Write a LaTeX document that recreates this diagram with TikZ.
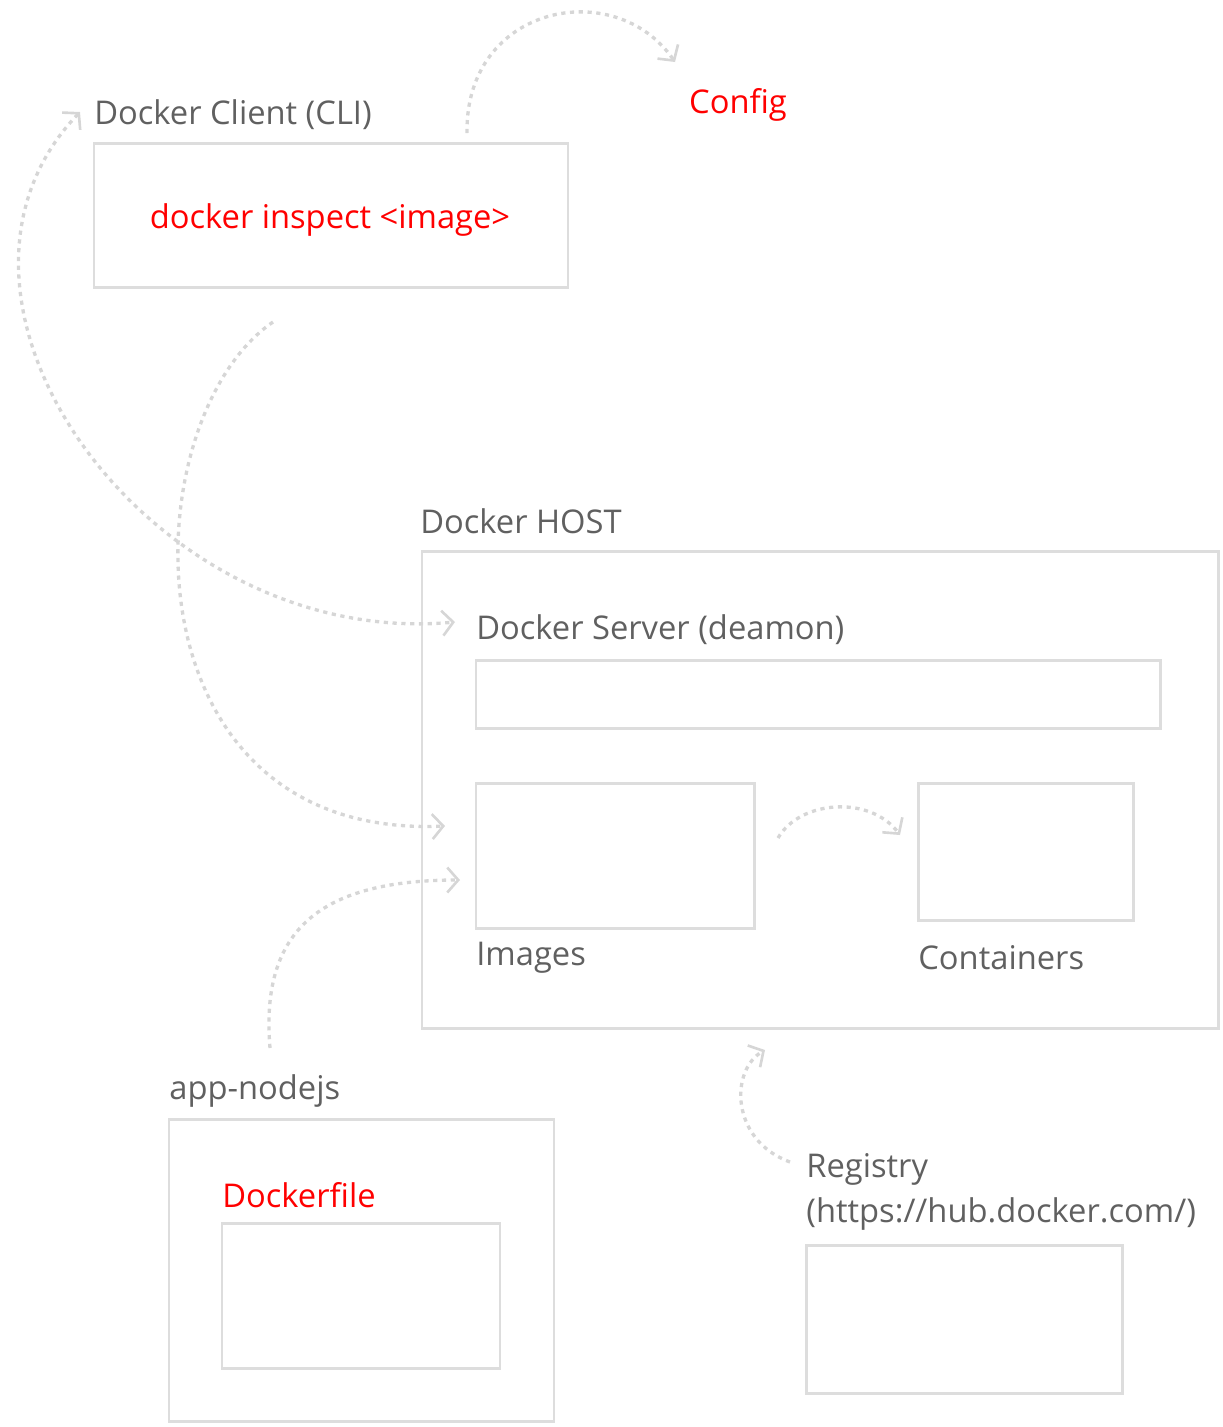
\documentclass[tikz,border=0pt]{standalone}
\usepackage{fontspec}
\setmainfont{Open Sans}
\usetikzlibrary{arrows.meta}
\definecolor{boxgray}{HTML}{DDDDDD}
\definecolor{dotgray}{HTML}{D6D6D6}
\definecolor{txtgray}{HTML}{606060}
\definecolor{cmdred}{HTML}{FF0000}
\begin{document}
\begin{tikzpicture}[
    box/.style = {draw = boxgray, line width = 1.7pt, inner sep = 0pt},
    lbl/.style = {anchor = west, inner sep = 0pt, yshift = -0.06cm, text = txtgray, font = \fontsize{18.6}{25.6}\selectfont},
    redlbl/.style = {inner sep = 0pt, yshift = -0.06cm, text = cmdred, font = \fontsize{18.6}{25.6}\selectfont},
    barb/.tip = {Straight Barb[length = 0.22cm, width = 0.5cm, line width = 1.5pt]},
    flow/.style = {draw = dotgray, line width = 1.9pt, dash pattern = on 2.4pt off 2.6pt, -barb}
    ]
    \useasboundingbox (0,0) rectangle (24.46,-28.54);
        %Client
        \node [lbl] (cli)at(1.88,-2.24){Docker Client (CLI)};
        \node [box, minimum width = 9.48cm, minimum height = 2.88cm]
        (clibox)at(6.62,-4.30){};
        \node [redlbl] (cmd)at(6.60,-4.34){docker inspect <image>};
        %Config
        \node [redlbl] (cfg)at(14.76,-2.04){Config};
        %Host
        \node [lbl] (host)at(8.40,-10.36){Docker HOST};
        \node [box, minimum width = 15.92cm, minimum height = 9.54cm]
        (hostbox)at(16.40,-15.79){};
        %Server
        \node [lbl] (srv)at(9.52,-12.54){Docker Server (deamon)};
        \node [box, minimum width = 13.68cm, minimum height = 1.36cm]
        (srvbox)at(16.36,-13.88){};
        %Images
        \node [box, minimum width = 5.56cm, minimum height = 2.90cm]
        (img)at(12.30,-17.11){};
        \node [lbl] (imglbl)at(9.52,-19.10){Images};
        %Containers
        \node [box, minimum width = 4.30cm, minimum height = 2.74cm]
        (cont)at(20.51,-17.03){};
        \node [lbl] (contlbl)at(18.36,-19.10){Containers};
        %App
        \node [lbl] (app)at(3.38,-21.76){app-nodejs};
        \node [box, minimum width = 7.70cm, minimum height = 6.04cm]
        (appbox)at(7.23,-25.40){};
        \node [redlbl, anchor = west] (dfile)at(4.44,-23.84){Dockerfile};
        \node [box, minimum width = 5.56cm, minimum height = 2.90cm]
        (dbox)at(7.22,-25.91){};
        %Registry
        \node [lbl, align = left] (reg)at(16.12,-23.77){Registry\\(https://hub.docker.com/)};
        \node [box, minimum width = 6.32cm, minimum height = 2.96cm]
        (regbox)at(19.28,-26.38){};

        %ends of the flows
        \coordinate (cliTop) at (9.34,-2.66);
        \coordinate (cfgIn) at (13.50,-1.24);
        \coordinate (cliIn) at (1.60,-2.24);
        \coordinate (srvIn) at (9.10,-12.44);
        \coordinate (cliBot) at (5.46,-6.44);
        \coordinate (imgIn1) at (8.90,-16.52);
        \coordinate (appTop) at (5.40,-20.96);
        \coordinate (imgIn2) at (9.20,-17.60);
        \coordinate (imgOut) at (15.56,-16.76);
        \coordinate (contIn) at (18.00,-16.70);
        \coordinate (regOut) at (15.80,-23.24);
        \coordinate (hostIn) at (15.30,-21.00);

        \draw [flow](cliTop) .. controls (9.30,-0.10) and (12.30,0.50) .. (cfgIn);
        \draw [flow, barb-barb](cliIn) .. controls (-2.00,-6.00) and (3.00,-13.00) .. (srvIn);
        \draw [flow](cliBot) .. controls (2.60,-8.40) and (2.40,-16.80) .. (imgIn1);
        \draw [flow](appTop) .. controls (5.20,-18.60) and (6.40,-17.60) .. (imgIn2);
        \draw [flow](imgOut) .. controls (16.00,-16.00) and (17.40,-15.90) .. (contIn);
        \draw [flow](regOut) .. controls (14.60,-22.80) and (14.60,-21.40) .. (hostIn);

    \end{tikzpicture}
\end{document}
